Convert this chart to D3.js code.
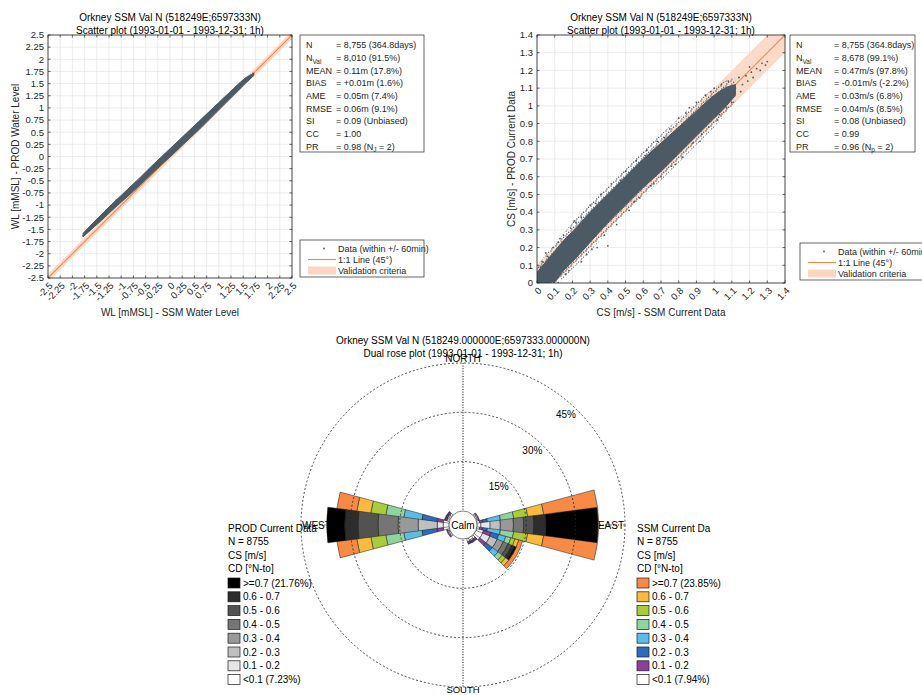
<!DOCTYPE html>
<html><head><meta charset="utf-8">
<script src="https://cdn.jsdelivr.net/npm/d3@7"></script>
<style>
body{margin:0;background:#fff;}
svg{display:block;font-family:"Liberation Sans",Arial,Helvetica,sans-serif;}
</style></head>
<body><svg id="c" width="922" height="695"></svg>
<script>
// ---------------- DATA ----------------
const wlTickValues = [-2.5,-2.25,-2,-1.75,-1.5,-1.25,-1,-0.75,-0.5,-0.25,0,0.25,0.5,0.75,1,1.25,1.5,1.75,2,2.25,2.5];
const wlTickLabels = ["-2.5","-2.25","-2","-1.75","-1.5","-1.25","-1","-0.75","-0.5","-0.25","0","0.25","0.5","0.75","1","1.25","1.5","1.75","2","2.25","2.5"];
const csTickValues = [0,0.1,0.2,0.3,0.4,0.5,0.6,0.7,0.8,0.9,1,1.1,1.2,1.3,1.4];
const csTickLabels = ["0","0.1","0.2","0.3","0.4","0.5","0.6","0.7","0.8","0.9","1","1.1","1.2","1.3","1.4"];

// dense scatter cloud envelopes (x, lower y, upper y)
const wlCloudX  = [-1.78,-1.6,-1.4,-1.2,-1.0,-0.8,-0.6,-0.4,-0.2,0.0,0.2,0.4,0.6,0.8,1.0,1.2,1.4,1.55,1.72];
const wlCloudLo = [-1.65,-1.49,-1.31,-1.12,-0.94,-0.76,-0.57,-0.38,-0.19,-0.01,0.18,0.37,0.56,0.76,0.96,1.16,1.36,1.51,1.67];
const wlCloudHi = [-1.58,-1.39,-1.19,-0.99,-0.80,-0.61,-0.42,-0.22,-0.03,0.16,0.35,0.54,0.73,0.92,1.11,1.30,1.49,1.62,1.71];
const wlPointsX = [-1.78,-1.74,-1.7,-1.65,-1.6,1.6,1.66,1.7,-1.5,-1.3,-1.1];
const wlPointsY = [-1.63,-1.6,-1.56,-1.52,-1.44,1.62,1.67,1.71,-1.3,-1.1,-0.9];

const csCloudX  = [0.0,0.05,0.1,0.15,0.2,0.3,0.4,0.5,0.6,0.7,0.8,0.9,1.0,1.06,1.12];
const csCloudLo = [0.0,0.0,0.01,0.07,0.12,0.23,0.34,0.44,0.54,0.63,0.73,0.83,0.93,0.99,1.06];
const csCloudHi = [0.06,0.12,0.18,0.24,0.29,0.40,0.50,0.60,0.70,0.79,0.88,0.97,1.06,1.10,1.12];
const csHaloLo  = [0.0,0.0,0.0,0.03,0.08,0.18,0.29,0.39,0.49,0.58,0.68,0.78,0.88,0.95,1.02];
const csHaloHi  = [0.10,0.16,0.22,0.28,0.34,0.45,0.55,0.65,0.75,0.84,0.93,1.02,1.10,1.14,1.16];
const csPointsX = [0.0,0.01,0.02,0.03,0.06,0.09,0.12,0.13,0.15,0.19,0.22,0.25,0.12,0.18,0.25,0.31,0.34,0.40,0.45,0.52,0.58,0.64,0.70,
  0.30,0.36,0.42,0.50,0.56,0.62,0.68,0.75,0.80,0.86,0.90,0.95,1.00,1.04,0.76,0.82,0.88,0.93,0.97,1.03,1.07,1.10,
  1.08,1.12,1.14,1.16,1.18,1.19,1.21,1.22,1.24,1.26,1.27,1.29,1.30,1.15,1.20,
  0.05,0.08,0.16,0.21,0.28,0.33,0.38,0.47,0.55,0.61,0.66,0.72,0.78,0.84,0.92,0.98,1.02];
const csPointsY = [0.0,0.02,0.09,0.12,0.15,0.20,0.23,0.25,0.27,0.31,0.34,0.37,0.0,0.07,0.12,0.19,0.20,0.21,0.33,0.41,0.48,0.55,0.60,
  0.44,0.50,0.56,0.63,0.69,0.75,0.80,0.87,0.93,0.99,1.02,1.06,1.10,1.12,0.66,0.71,0.79,0.84,0.88,0.95,0.99,1.02,
  1.14,1.10,1.16,1.12,1.17,1.14,1.19,1.16,1.21,1.20,1.24,1.23,1.25,1.08,1.22,
  0.17,0.01,0.05,0.35,0.16,0.45,0.27,0.58,0.46,0.72,0.56,0.82,0.67,0.96,0.80,1.08,0.92];

const wlStatLabels = ["N","N_{Val}","MEAN","BIAS","AME","RMSE","SI","CC","PR"];
const wlStatValues = ["= 8,755 (364.8days)","= 8,010 (91.5%)","= 0.11m (17.8%)","= +0.01m (1.6%)","= 0.05m (7.4%)","= 0.06m (9.1%)","= 0.09 (Unbiased)","= 1.00","= 0.98 (N_{J} = 2)"];
const csStatLabels = ["N","N_{Val}","MEAN","BIAS","AME","RMSE","SI","CC","PR"];
const csStatValues = ["= 8,755 (364.8days)","= 8,678 (99.1%)","= 0.47m/s (97.8%)","= -0.01m/s (-2.2%)","= 0.03m/s (6.8%)","= 0.04m/s (8.5%)","= 0.08 (Unbiased)","= 0.99","= 0.96 (N_{p} = 2)"];
const scatterLegend = ["Data (within +/- 60min)","1:1 Line (45°)","Validation criteria"];

// rose: direction bins (deg, N-to), percentages per speed class (inner -> outer)
const dirBins = [0,30,60,90,120,150,180,210,240,270,300,330];
const speedClasses = ["<0.1","0.1 - 0.2","0.2 - 0.3","0.3 - 0.4","0.4 - 0.5","0.5 - 0.6","0.6 - 0.7",">=0.7"];
const ssmPct = [
  [0,0,0,0,0,0,0,0],
  [0,0,0,0,0,0,0,0],
  [0.6,0.4,0,0,0,0,0,0],
  [0.9,0.9,1.5,4.0,4.0,4.3,4.9,16.5],
  [2.2,2.4,2.4,2.2,1.6,1.3,1.2,1.2],
  [1.0,0.6,0.2,0,0,0,0,0],
  [0,0,0,0,0,0,0,0],
  [0,0,0,0,0,0,0,0],
  [0.6,0.4,0,0,0,0,0,0],
  [1.8,2.0,4.6,5.5,5.5,4.6,4.3,6.1],
  [0.8,0.6,0.2,0,0,0,0,0],
  [0,0,0,0,0,0,0,0]
];
const prodPct = [
  [0,0,0,0,0,0,0,0],
  [0,0,0,0,0,0,0,0],
  [0.4,0.3,0,0,0,0,0,0],
  [1.2,2.8,3.1,4.0,3.1,3.1,3.7,15.8],
  [2.2,2.4,2.4,2.0,1.6,1.2,0.9,0.5],
  [0.7,0.4,0.1,0,0,0,0,0],
  [0,0,0,0,0,0,0,0],
  [0,0,0,0,0,0,0,0],
  [0.4,0.3,0,0,0,0,0,0],
  [1.8,1.8,5.8,6.1,6.1,6.1,4.0,5.5],
  [0.5,0.4,0.1,0,0,0,0,0],
  [0,0,0,0,0,0,0,0]
];
const ssmColors  = ["#ffffff","#8c3f9c","#2b6cc0","#5bbde6","#8fd3a0","#aacc3c","#fbba3e","#f98a46"];
const prodColors = ["#ffffff","#e6e6e6","#bfbfbf","#999999","#757575","#525252","#2d2d2d","#000000"];
const prodLegendLabels = [">=0.7 (21.76%)","0.6 - 0.7","0.5 - 0.6","0.4 - 0.5","0.3 - 0.4","0.2 - 0.3","0.1 - 0.2","<0.1 (7.23%)"];
const ssmLegendLabels  = [">=0.7 (23.85%)","0.6 - 0.7","0.5 - 0.6","0.4 - 0.5","0.3 - 0.4","0.2 - 0.3","0.1 - 0.2","<0.1 (7.94%)"];
const prodHeader = ["PROD Current Data","N = 8755","CS [m/s]","CD [°N-to]"];
const ssmHeader  = ["SSM Current Da","N = 8755","CS [m/s]","CD [°N-to]"];
const roseRings = [15,30,45];
const roseRingLabels = ["15%","30%","45%"];

// ---------------- DRAWING ----------------
const svg = d3.select("#c");
svg.append("rect").attr("width",922).attr("height",695).attr("fill","#fff");
const TXT = "#262626";
const DOT = "#4b5a64";

// speckle pattern for sparse edge of the scatter cloud
const pat = svg.append("defs").append("pattern").attr("id","speckle").attr("patternUnits","userSpaceOnUse").attr("width",5).attr("height",5);
[[1,1],[3.6,2.3],[1.8,3.9]].forEach(p=>pat.append("circle").attr("cx",p[0]).attr("cy",p[1]).attr("r",0.75).attr("fill",DOT));

function rich(sel, str, fs){
  const parts = str.split(/(_\{[^}]*\})/).filter(p=>p.length);
  let shifted = false;
  parts.forEach(p=>{
    if(p.startsWith("_{")){
      sel.append("tspan").attr("dy",fs*0.3).attr("font-size",fs*0.72).text(p.slice(2,-1));
      shifted = true;
    } else {
      const t = sel.append("tspan").text(p);
      if(shifted){ t.attr("dy",-fs*0.3); shifted=false; }
    }
  });
}

function scatterPanel(c){
  const x = d3.scaleLinear().domain(c.dom).range([c.L,c.L+c.W]);
  const y = d3.scaleLinear().domain(c.dom).range([c.T+c.H,c.T]);
  const g = svg.append("g");
  svg.append("clipPath").attr("id",c.id).append("rect").attr("x",c.L).attr("y",c.T).attr("width",c.W).attr("height",c.H);
  g.selectAll(null).data(c.ticks).join("line")
    .attr("x1",d=>x(d)).attr("x2",d=>x(d)).attr("y1",c.T).attr("y2",c.T+c.H)
    .attr("stroke","#e4e4e4").attr("stroke-width",0.7);
  g.selectAll(null).data(c.ticks).join("line")
    .attr("y1",d=>y(d)).attr("y2",d=>y(d)).attr("x1",c.L).attr("x2",c.L+c.W)
    .attr("stroke","#e4e4e4").attr("stroke-width",0.7);
  const inner = g.append("g").attr("clip-path",`url(#${c.id})`);
  const d0=c.dom[0]-1, d1=c.dom[1]+1, b=c.band;
  inner.append("path")
    .attr("d", d3.line()([[x(d0),y(d0+b)],[x(d1),y(d1+b)],[x(d1),y(d1-b)],[x(d0),y(d0-b)]])+"Z")
    .attr("fill","#fcd6c2").attr("opacity",0.9);
  inner.append("line").attr("x1",x(c.dom[0])).attr("y1",y(c.dom[0])).attr("x2",x(c.dom[1])).attr("y2",y(c.dom[1]))
    .attr("stroke","#f4864a").attr("stroke-width",1.1);
  const idx = d3.range(c.cx.length);
  if(c.hlo){
    inner.append("path").datum(idx)
      .attr("d", d3.area().x(i=>x(c.cx[i])).y0(i=>y(c.hlo[i])).y1(i=>y(c.hhi[i])).curve(d3.curveMonotoneX))
      .attr("fill","url(#speckle)");
  }
  inner.append("path").datum(idx)
    .attr("d", d3.area().x(i=>x(c.cx[i])).y0(i=>y(c.clo[i])).y1(i=>y(c.chi[i])).curve(d3.curveMonotoneX))
    .attr("fill",DOT).attr("stroke",DOT).attr("stroke-width",1).attr("stroke-linejoin","round");
  inner.selectAll(null).data(d3.range(c.px.length)).join("circle")
    .attr("cx",i=>x(c.px[i])).attr("cy",i=>y(c.py[i])).attr("r",0.9).attr("fill",DOT);
  g.append("rect").attr("x",c.L).attr("y",c.T).attr("width",c.W).attr("height",c.H)
    .attr("fill","none").attr("stroke",TXT).attr("stroke-width",0.8);
  const tl=2.5;
  c.ticks.forEach(t=>{
    [[x(t),c.T+c.H,x(t),c.T+c.H-tl],[x(t),c.T,x(t),c.T+tl],[c.L,y(t),c.L+tl,y(t)],[c.L+c.W,y(t),c.L+c.W-tl,y(t)]].forEach(s=>{
      g.append("line").attr("x1",s[0]).attr("y1",s[1]).attr("x2",s[2]).attr("y2",s[3]).attr("stroke",TXT).attr("stroke-width",0.7);
    });
  });
  g.selectAll(null).data(c.ticks).join("text")
    .attr("x",c.L-4).attr("y",d=>y(d)).attr("dy","0.35em").attr("text-anchor","end")
    .attr("font-size",9.5).attr("fill",TXT).text((d,i)=>c.labels[i]);
  g.selectAll(null).data(c.ticks).join("text")
    .attr("transform",d=>`translate(${x(d)+3},${c.T+c.H+6}) rotate(-45)`).attr("dy","0.35em").attr("text-anchor","end")
    .attr("font-size",9.5).attr("fill",TXT).text((d,i)=>c.labels[i]);
  const cx=c.L+c.W/2;
  g.append("text").attr("x",cx).attr("y",21).attr("text-anchor","middle").attr("font-size",10).attr("fill","#000").text(c.title1);
  g.append("text").attr("x",cx).attr("y",33.5).attr("text-anchor","middle").attr("font-size",10).attr("fill","#000").text(c.title2);
  g.append("text").attr("x",cx).attr("y",316).attr("text-anchor","middle").attr("font-size",10).attr("fill",TXT).text(c.xTitle);
  g.append("text").attr("transform",`translate(${c.yTx},${c.T+c.H/2}) rotate(-90)`).attr("text-anchor","middle").attr("dy","0.35em")
    .attr("font-size",10).attr("fill",TXT).text(c.yTitle);
  const sb=c.stats;
  g.append("rect").attr("x",sb.x).attr("y",sb.y).attr("width",sb.w).attr("height",sb.h).attr("fill","#fff").attr("stroke",TXT).attr("stroke-width",0.7);
  c.sLabels.forEach((lab,i)=>{
    const yy = sb.y+10+i*12.7;
    rich(g.append("text").attr("x",sb.x+6).attr("y",yy).attr("dy","0.35em").attr("font-size",9).attr("fill",TXT), lab, 9);
    rich(g.append("text").attr("x",sb.x+sb.vx).attr("y",yy).attr("dy","0.35em").attr("font-size",9).attr("fill",TXT), c.sValues[i], 9);
  });
  const lb=c.leg;
  g.append("rect").attr("x",lb.x).attr("y",lb.y).attr("width",lb.w).attr("height",lb.h).attr("fill","#fff").attr("stroke",TXT).attr("stroke-width",0.7);
  const ry=[lb.y+8.5,lb.y+19.5,lb.y+30.5];
  g.append("circle").attr("cx",lb.x+24).attr("cy",ry[0]).attr("r",0.9).attr("fill",DOT);
  g.append("line").attr("x1",lb.x+8).attr("x2",lb.x+36).attr("y1",ry[1]).attr("y2",ry[1]).attr("stroke","#f4864a").attr("stroke-width",1.1);
  g.append("rect").attr("x",lb.x+8).attr("y",ry[2]-4).attr("width",28).attr("height",8).attr("fill","#fcd6c2");
  scatterLegend.forEach((t,i)=>{
    g.append("text").attr("x",lb.x+38).attr("y",ry[i]).attr("dy","0.35em").attr("font-size",9).attr("fill",TXT).text(t);
  });
}

scatterPanel({id:"clipA",L:48,T:35,W:244,H:243,dom:[-2.5,2.5],ticks:wlTickValues,labels:wlTickLabels,band:0.08,
  cx:wlCloudX,clo:wlCloudLo,chi:wlCloudHi,px:wlPointsX,py:wlPointsY,
  title1:"Orkney SSM Val N (518249E;6597333N)",title2:"Scatter plot  (1993-01-01 - 1993-12-31; 1h)",
  xTitle:"WL [mMSL] - SSM Water Level",yTitle:"WL [mMSL] - PROD Water Level",yTx:15,
  stats:{x:300,y:35,w:124,h:117,vx:36},sLabels:wlStatLabels,sValues:wlStatValues,
  leg:{x:300,y:240,w:124,h:37}});

scatterPanel({id:"clipB",L:537,T:35,W:248,H:248,dom:[0,1.4],ticks:csTickValues,labels:csTickLabels,band:0.1,
  cx:csCloudX,clo:csCloudLo,chi:csCloudHi,hlo:csHaloLo,hhi:csHaloHi,px:csPointsX,py:csPointsY,
  title1:"Orkney SSM Val N (518249E;6597333N)",title2:"Scatter plot  (1993-01-01 - 1993-12-31; 1h)",
  xTitle:"CS [m/s] - SSM Current Data",yTitle:"CS [m/s] - PROD Current Data",yTx:511,
  stats:{x:790,y:35,w:125,h:117,vx:44},sLabels:csStatLabels,sValues:csStatValues,
  leg:{x:800,y:243,w:140,h:37}});

// ---------------- ROSE ----------------
const C={x:463,y:525};
const rScale = d3.scaleLinear().domain([0,45]).range([14,162]);
const R = rScale(45);
const gR = svg.append("g").attr("transform",`translate(${C.x},${C.y})`);
svg.append("text").attr("x",C.x).attr("y",344).attr("text-anchor","middle").attr("font-size",10).text("Orkney SSM Val N (518249.000000E;6597333.000000N)");
svg.append("text").attr("x",C.x).attr("y",357).attr("text-anchor","middle").attr("font-size",10).text("Dual rose plot  (1993-01-01 - 1993-12-31; 1h)");

gR.append("line").attr("x1",0).attr("x2",0).attr("y1",-R).attr("y2",R).attr("stroke","#000").attr("stroke-width",1).attr("stroke-dasharray","1,1.6");
gR.append("line").attr("y1",0).attr("y2",0).attr("x1",-R).attr("x2",R).attr("stroke","#000").attr("stroke-width",1).attr("stroke-dasharray","1,1.6");
gR.append("text").attr("x",0).attr("y",-R-1).attr("text-anchor","middle").attr("font-size",10).text("NORTH");
gR.append("text").attr("x",0).attr("y",R+6).attr("text-anchor","middle").attr("font-size",9.5).text("SOUTH");
gR.append("text").attr("x",-R+1).attr("y",4).attr("text-anchor","start").attr("font-size",10).text("WEST");
gR.append("text").attr("x",R-1).attr("y",4).attr("text-anchor","end").attr("font-size",10).text("EAST");

const arc = d3.arc();
const rad = Math.PI/180;
function drawRose(pct, colors, half){
  dirBins.forEach((dir,i)=>{
    let cum=0;
    pct[i].forEach((v,k)=>{
      if(v<=0) return;
      const r0=rScale(cum); cum+=v; const r1=rScale(cum);
      gR.append("path").attr("d",arc({innerRadius:r0,outerRadius:r1,startAngle:(dir-half)*rad,endAngle:(dir+half)*rad}))
        .attr("fill",colors[k]).attr("stroke","#1a1a1a").attr("stroke-width",0.5);
    });
  });
}
drawRose(ssmPct, ssmColors, 15);
drawRose(prodPct, prodColors, 7.5);

roseRings.forEach((p,i)=>{
  gR.append("circle").attr("r",rScale(p)).attr("fill","none").attr("stroke","#222").attr("stroke-width",0.8).attr("stroke-dasharray","2,2");
  const rr = rScale(p)-11, a=43*rad;
  gR.append("text").attr("x",rr*Math.sin(a)).attr("y",-rr*Math.cos(a)).attr("dy","0.35em").attr("text-anchor","middle").attr("font-size",10).text(roseRingLabels[i]);
});
gR.append("circle").attr("r",rScale(0)).attr("fill","#fff").attr("stroke","#333").attr("stroke-width",0.6);
gR.append("text").attr("y",0).attr("dy","0.35em").attr("text-anchor","middle").attr("font-size",10).text("Calm");

function roseLegend(x0, header, labels, colors){
  const g=svg.append("g");
  header.forEach((t,i)=>{
    g.append("text").attr("x",x0).attr("y",528+i*13.5).attr("dy","0.35em").attr("font-size",10).attr("fill","#000").text(t);
  });
  labels.forEach((t,i)=>{
    const yy=583+i*13.8;
    g.append("rect").attr("x",x0).attr("y",yy-5).attr("width",12).attr("height",10)
      .attr("fill",colors[colors.length-1-i]).attr("stroke","#1a1a1a").attr("stroke-width",0.7);
    g.append("text").attr("x",x0+15).attr("y",yy).attr("dy","0.35em").attr("font-size",10).attr("fill","#000").text(t);
  });
}
roseLegend(228, prodHeader, prodLegendLabels, prodColors);
roseLegend(637, ssmHeader, ssmLegendLabels, ssmColors);
</script>
</body></html>
